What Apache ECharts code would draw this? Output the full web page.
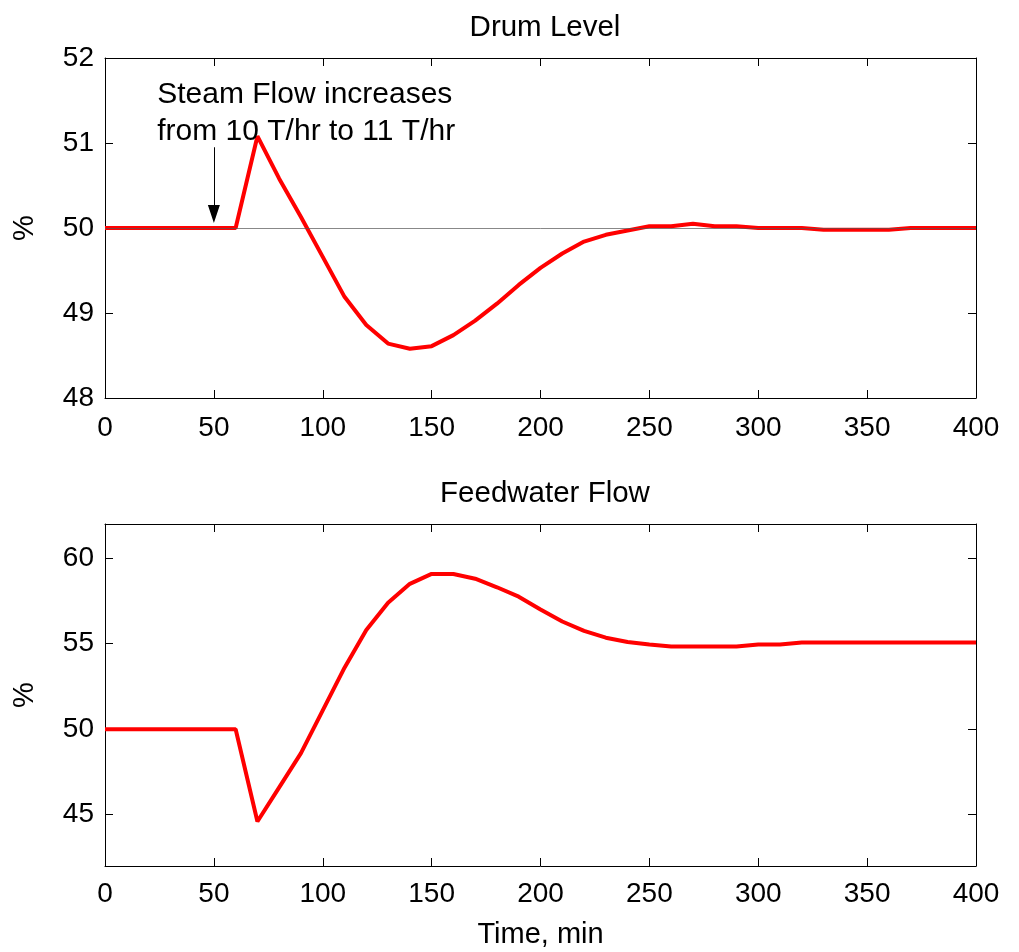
<!DOCTYPE html>
<html>
<head>
<meta charset="utf-8">
<script src="https://cdn.jsdelivr.net/npm/echarts@6/dist/echarts.min.js"></script>
<style>
html,body{margin:0;padding:0;background:#fff;}
#chart{width:1019px;height:952px;}
</style>
</head>
<body>
<div id="chart"></div>
<script>
const timeMin = [0,10,20,30,40,50,60,70,80,90,100,110,120,130,140,150,160,170,180,190,200,210,220,230,240,250,260,270,280,290,300,310,320,330,340,350,360,370,380,390,400];
const drumLevel = [50,50,50,50,50,50,50,51.08,50.58,50.13,49.66,49.19,48.86,48.64,48.58,48.61,48.74,48.91,49.11,49.33,49.53,49.70,49.84,49.92,49.97,50.02,50.02,50.05,50.02,50.02,50.00,50.00,50.00,49.98,49.98,49.98,49.98,50.00,50.00,50.00,50.00];
const feedwaterFlow = [50,50,50,50,50,50,50,44.6,46.6,48.6,51.1,53.6,55.8,57.4,58.5,59.08,59.08,58.8,58.3,57.75,57.0,56.3,55.75,55.35,55.1,54.95,54.83,54.83,54.83,54.83,54.95,54.95,55.07,55.07,55.07,55.07,55.07,55.07,55.07,55.07,55.07];
const xTicks = [0,50,100,150,200,250,300,350,400];
const drumTicks = [48,49,50,51,52];
const feedTicks = [45,50,55,60];
const titles = ['Drum Level','Feedwater Flow'];
const xName = 'Time, min';
const yName = '%';
const annotation = 'Steam Flow increases\nfrom 10 T/hr to 11 T/hr';
const arrowFrom = [50, 50.95];
const arrowTo = [50, 50.165];
const annotationAt = [24, 51.35];

const FONT = 'Liberation Sans, Arial, sans-serif';
const FS = 28;
const chart = echarts.init(document.getElementById('chart'), null, {renderer:'canvas'});

function pairs(ys){ return timeMin.map((t,i)=>[t, ys[i]]); }

const axisLineStyle = {show:true, onZero:false, lineStyle:{color:'#000', width:1}};
const tickStyle = {show:true, inside:true, length:8, lineStyle:{color:'#000', width:1}};

function xAxes(gi){
  return [
    {gridIndex:gi, type:'value', min:0, max:400, position:'bottom',
     axisLine:axisLineStyle, axisTick:Object.assign({customValues:xTicks}, tickStyle),
     axisLabel:{show:true, customValues:xTicks, color:'#000', fontSize:FS, fontFamily:FONT, margin:gi===0?16:14},
     splitLine:{show:false},
     name: gi===1 ? xName : '', nameLocation:'middle', nameGap:54,
     nameTextStyle:{color:'#000', fontSize:FS+1, fontFamily:FONT}},
    {gridIndex:gi, type:'value', min:0, max:400, position:'top',
     axisLine:axisLineStyle, axisTick:Object.assign({customValues:xTicks}, tickStyle),
     axisLabel:{show:false}, splitLine:{show:false}}
  ];
}
function yAxes(gi, min, max, ticks){
  return [
    {gridIndex:gi, type:'value', min:min, max:max, position:'left',
     axisLine:axisLineStyle, axisTick:Object.assign({customValues:ticks}, tickStyle),
     axisLabel:{show:true, customValues:ticks, color:'#000', fontSize:FS, fontFamily:FONT, margin:11},
     splitLine:{show:false},
     name:yName, nameLocation:'middle', nameGap:66, nameRotate:90,
     nameTextStyle:{color:'#000', fontSize:FS+1, fontFamily:FONT}},
    {gridIndex:gi, type:'value', min:min, max:max, position:'right',
     axisLine:axisLineStyle, axisTick:Object.assign({customValues:ticks}, tickStyle),
     axisLabel:{show:false}, splitLine:{show:false}}
  ];
}

const option = {
  backgroundColor:'#fff',
  animation:false,
  title:[
    {text:titles[0], left:540, top:8, textAlign:'center',
     textStyle:{color:'#000', fontSize:FS+1.5, fontWeight:'normal', fontFamily:FONT}},
    {text:titles[1], left:540, top:474, textAlign:'center',
     textStyle:{color:'#000', fontSize:FS+1.5, fontWeight:'normal', fontFamily:FONT}}
  ],
  grid:[
    {left:105, top:58, width:871, height:340, containLabel:false},
    {left:105, top:524, width:871, height:342, containLabel:false}
  ],
  xAxis:[].concat(xAxes(0), xAxes(1)),
  yAxis:[].concat(yAxes(0,48,52,drumTicks), yAxes(1,42,62,feedTicks)),
  series:[
    {type:'line', xAxisIndex:0, yAxisIndex:0, data:pairs(drumLevel),
     showSymbol:false, symbol:'none', lineStyle:{color:'#ff0000', width:4}, z:3,
     markLine:{silent:true, symbol:['none','none'], label:{show:false},
       lineStyle:{color:'#555', width:0.7, type:'solid'},
       data:[{yAxis:50}]},
     markPoint:{silent:true, symbol:'circle', symbolSize:0,
       data:[{coord:annotationAt, value:0}],
       label:{show:true, position:'inside', align:'left', verticalAlign:'middle',
         formatter:annotation, color:'#000', fontSize:30, fontFamily:FONT, lineHeight:37}}
    },
    {type:'line', xAxisIndex:0, yAxisIndex:0, data:[], symbol:'none',
     markLine:{silent:true, symbol:['none','triangle'], symbolSize:[12,18], symbolRotate:180, label:{show:false},
       lineStyle:{color:'#000', width:1, type:'solid'},
       data:[[{coord:arrowFrom},{coord:arrowTo}]]}},
    {type:'line', xAxisIndex:2, yAxisIndex:2, data:pairs(feedwaterFlow),
     showSymbol:false, symbol:'none', lineStyle:{color:'#ff0000', width:4}, z:3}
  ]
};
chart.setOption(option);
</script>
</body>
</html>
